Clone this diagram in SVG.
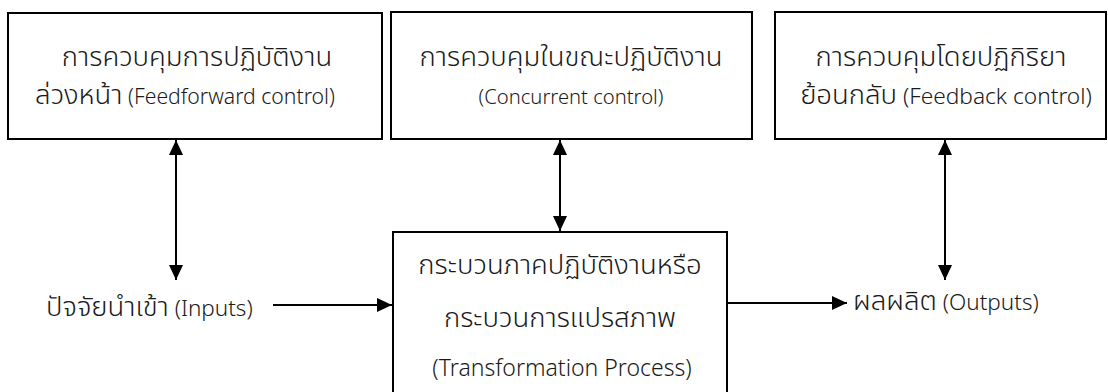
<svg xmlns="http://www.w3.org/2000/svg" width="1108" height="392" viewBox="0 0 1108 392">
<style>
.box{fill:#fff;stroke:#000;stroke-width:2}
.t{font-family:"Noto Sans","Noto Sans Thai","Liberation Sans",sans-serif;font-size:22.5px;font-weight:300;fill:#1a1a1a;text-anchor:middle}
.tl{font-family:"Noto Sans","Noto Sans Thai","Liberation Sans",sans-serif;font-size:22.5px;font-weight:300;fill:#1a1a1a}
.th{font-size:27.5px;font-weight:300}
.c{stroke:#000;stroke-width:2;fill:none}
</style>
<defs>
<marker id="ah" markerUnits="userSpaceOnUse" markerWidth="16" markerHeight="16" viewBox="0 0 16 16" refX="15" refY="8" orient="auto-start-reverse">
<path d="M0,1 L15,8 L0,15 Z" fill="#000"/>
</marker>
</defs>
<rect width="1108" height="392" fill="#fff"/>
<g id="n-feedforward">
<rect class="box" x="8" y="13" width="374" height="126"/>
<text class="t" x="197" y="66"><tspan class="th">การควบคุมการปฏิบัติงาน</tspan></text>
<text class="t" x="185" y="104" style="font-size:21.2px"><tspan class="th">ล่วงหน้า</tspan> (Feedforward control)</text>
</g>
<g id="n-concurrent">
<rect class="box" x="391" y="12" width="361" height="127"/>
<text class="t" x="571" y="66"><tspan class="th">การควบคุมในขณะปฏิบัติงาน</tspan></text>
<text class="t" x="571" y="104" style="font-size:20.2px">(Concurrent control)</text>
</g>
<g id="n-feedback">
<rect class="box" x="775" y="12" width="331" height="127"/>
<text class="t" x="941" y="66"><tspan class="th">การควบคุมโดยปฏิกิริยา</tspan></text>
<text class="t" x="946" y="104" style="font-size:22.7px"><tspan class="th">ย้อนกลับ</tspan> (Feedback control)</text>
</g>
<g id="n-process">
<rect class="box" x="393" y="232" width="334" height="170"/>
<text class="t" x="560" y="274"><tspan class="th">กระบวนภาคปฏิบัติงานหรือ</tspan></text>
<text class="t" x="560" y="327"><tspan class="th">กระบวนการแปรสภาพ</tspan></text>
<text class="t" x="562" y="376" style="font-size:23px">(Transformation Process)</text>
</g>
<g id="n-inputs">
<text class="tl" x="46" y="316"><tspan class="th">ปัจจัยนำเข้า</tspan> (Inputs)</text>
</g>
<g id="n-outputs">
<text class="tl" x="853" y="310"><tspan class="th">ผลผลิต</tspan> (Outputs)</text>
</g>
<g id="connectors">
<line class="c" x1="176" y1="140" x2="176" y2="280" marker-start="url(#ah)" marker-end="url(#ah)"/>
<line class="c" x1="560" y1="140" x2="560" y2="231" marker-start="url(#ah)" marker-end="url(#ah)"/>
<line class="c" x1="945" y1="140" x2="945" y2="280" marker-start="url(#ah)" marker-end="url(#ah)"/>
<line class="c" x1="273" y1="305" x2="392" y2="305" marker-end="url(#ah)"/>
<line class="c" x1="727" y1="303" x2="847" y2="303" marker-end="url(#ah)"/>
</g>
</svg>
